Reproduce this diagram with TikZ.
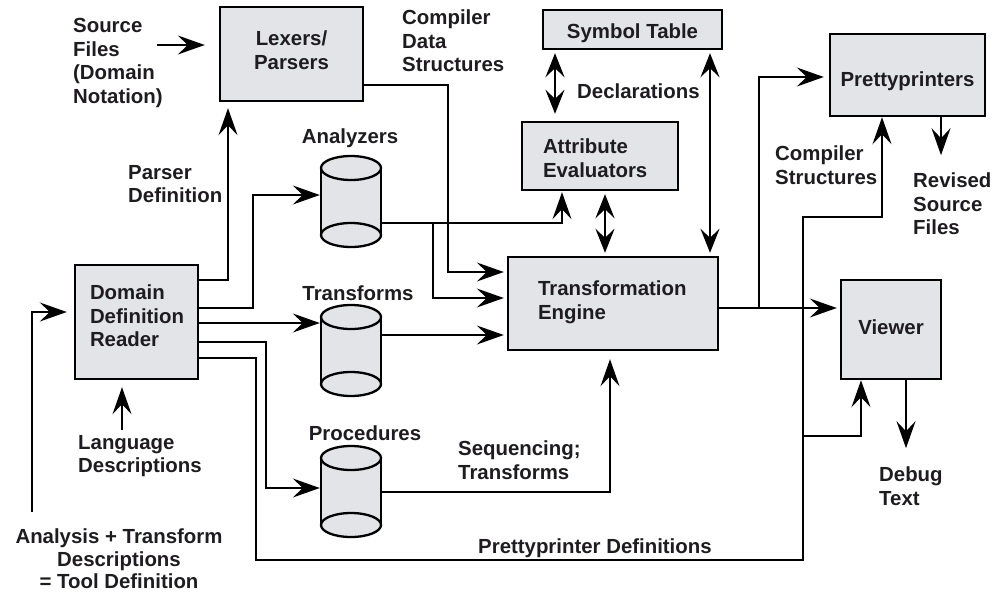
\documentclass[tikz,border=0pt]{standalone}
\usepackage{fontspec}
\setmainfont{Liberation Sans}
\usetikzlibrary{arrows.meta,calc}
\definecolor{boxfill}{RGB}{226,228,231}
\definecolor{txt}{RGB}{30,28,32}
\newcommand\upby[2]{\raisebox{#1}[\height][\depth]{#2}}
\newcommand\mycylinder[3]{%
  \fill[boxfill] (#1-30,#2) rectangle (#1+30,#3);
  \filldraw[cylline,fill=boxfill] (#1,#3) ellipse [x radius=30pt, y radius=12pt];
  \draw[cylline] (#1-30,#2) -- (#1-30,#3) (#1+30,#2) -- (#1+30,#3);
  \filldraw[cylline,fill=boxfill] (#1,#2) ellipse [x radius=30pt, y radius=12pt];
}
\begin{document}
\begin{tikzpicture}[x=1pt,y=-1pt,
  every node/.style={font=\bfseries\fontsize{20.4pt}{23.5pt}\selectfont, text=txt},
  box/.style={draw=black, line width=2.4pt, fill=boxfill, inner sep=0pt},
  lbl/.style={inner sep=0pt},
  cylline/.style={draw=black, line width=2.3pt},
  cylnode/.style={minimum width=60pt, minimum height=91pt, inner sep=0pt, draw=none},
  arr/.style={line width=2pt, -{Stealth[length=27pt,width=19pt,inset=10pt]}},
  darr/.style={line width=2pt, {Stealth[length=24pt,width=19pt,inset=9pt]}-{Stealth[length=24pt,width=19pt,inset=9pt]}, shorten <=3pt, shorten >=3pt}
]
\useasboundingbox[fill=white] (0,0) rectangle (1003,592);

% boxes
\node[box, minimum width=143pt, minimum height=94pt, align=center] (lex) at (291.5,54) {\upby{4pt}{Lexers/}\\\upby{4pt}{Parsers}};
\node[box, minimum width=179pt, minimum height=39pt] (sym) at (632.5,29.5) {\upby{-4pt}{Symbol Table}};
\node[box, minimum height=68pt, inner xsep=21pt, text width=114pt, align=left] (attr) at (600,156) {\upby{-2pt}{Attribute}\\\upby{-2pt}{Evaluators}};
\node[box, minimum width=155pt, minimum height=82pt] (pp) at (907.5,75) {\upby{-6pt}{Prettyprinters}};
\node[box, minimum height=93pt, inner xsep=30pt, text width=150pt, align=left] (te) at (613,303.5) {\upby{1pt}{Transformation}\\\upby{1pt}{Engine}};
\node[box, minimum width=100pt, minimum height=99pt] (viewer) at (891,329.5) {\upby{2pt}{Viewer}};
\node[box, minimum height=114pt, inner xsep=15pt, text width=93pt, align=left] (ddr) at (136.5,322) {\upby{6pt}{Domain}\\\upby{6pt}{Definition}\\\upby{6pt}{Reader}};

% cylinders
\mycylinder{351}{168}{235}
\mycylinder{351}{317}{384}
\mycylinder{351}{458}{525}
\node[cylnode] (ana) at (351,201.5) {};
\node[cylnode] (trans) at (351,350.5) {};
\node[cylnode] (proc) at (351,491.5) {};

% labels
\node[lbl, anchor=west, align=left] (src) at (73,63) {Source\\Files\\(Domain\\Notation)};
\node[lbl, anchor=west, align=left] (cds) at (402,41) {Compiler\\Data\\Structures};
\node[lbl, anchor=west, align=left] (pdef) at (128,184) {Parser\\Definition};
\node[lbl] (anal) at (350,138) {Analyzers};
\node[lbl] (transl) at (358,293) {Transforms};
\node[lbl] (procl) at (365,433) {Procedures};
\node[lbl, anchor=west] (decl) at (577,91) {Declarations};
\node[lbl, anchor=west, align=left] (cstr) at (775,165) {Compiler\\Structures};
\node[lbl, anchor=west, align=left] (rev) at (913,204) {Revised\\Source\\Files};
\node[lbl, anchor=west, align=left] (dbg) at (879,486) {Debug\\Text};
\node[lbl, anchor=west, align=left] (seq) at (458,460) {Sequencing;\\Transforms};
\node[lbl, anchor=west] (ppdl) at (478,548) {Prettyprinter Definitions};
\node[lbl, anchor=west, align=left] (lang) at (78,456) {Language\\Descriptions};
\node[lbl, align=center, font=\bfseries\fontsize{20.4pt}{22.5pt}\selectfont] (anadesc) at (119,559) {Analysis + Transform\\Descriptions\\= Tool Definition};

% coordinates for free ends / branch points
\coordinate (srcarr) at (157,45);
\coordinate (pdc) at (803,560);
\coordinate (pdt) at (803,217);
\coordinate (vbr) at (803,436);
\coordinate (tepp) at (759,308);
\coordinate (abr) at (433,223);
\coordinate (adin) at (32,512);
\coordinate (ldin) at (122,430);

% connectors
\draw[arr, shorten >=14pt] (srcarr) -- (srcarr -| lex.west);
\draw[arr, shorten >=6pt] ([yshift=42pt]ddr.east) -| ([xshift=-63.5pt]lex.south);
\draw[arr, shorten >=1pt] ([yshift=14pt]ddr.east) -- ++(54,0) |- ([yshift=6.5pt]ana.west);
\draw[arr, shorten >=1pt] ([yshift=-1pt]ddr.east) coordinate (p1) -- (p1 -| trans.west);
\draw[arr, shorten >=1pt] ([yshift=-20pt]ddr.east) -- ++(67,0) |- ([yshift=3.5pt]proc.west);
\draw[arr] ([yshift=-36pt]ddr.east) -- ++(57,0) |- (pdc) -- (pdt) -| ([xshift=-25.5pt]pp.south);
\draw[arr] (vbr) -| ([xshift=-30pt]viewer.south);
\draw[arr, shorten >=3pt] ([yshift=-4.5pt]te.east) coordinate (p2) -- (p2 -| viewer.west);
\draw[arr, shorten >=5pt] (tepp) |- ([yshift=-2pt]pp.west);
\draw[arr] ([xshift=15pt]viewer.south) -- ++(0,68);
\draw[arr] ([xshift=33.5pt]pp.south) -- ++(0,38);
\draw[darr, shorten >=7pt] ([xshift=-77.5pt]sym.south) coordinate (p3) -- (p3 |- attr.north);
\draw[darr] ([xshift=5pt]attr.south) coordinate (p4) -- (p4 |- te.north);
\draw[darr] ([xshift=77.5pt]sym.south) coordinate (p5) -- (p5 |- te.north);
\draw[arr, shorten >=1pt] ([yshift=-21.5pt]ana.east) -| ([xshift=-38pt]attr.south);
\draw[arr, shorten >=3pt] (abr) |- ([yshift=5.5pt]te.west);
\draw[arr, shorten >=3pt] ([yshift=-31pt]lex.east) -- ++(84,0) |- ([yshift=31.5pt]te.west);
\draw[arr, shorten >=3pt] ([yshift=15.5pt]trans.east) coordinate (p6) -- (p6 -| te.west);
\draw[arr, shorten >=8pt] (proc.east) -| ([xshift=-3pt]te.south);
\draw[arr, shorten >=7pt] (adin) |- ([yshift=10pt]ddr.west);
\draw[arr, shorten >=7pt] (ldin) -- (ldin |- ddr.south);
\end{tikzpicture}
\end{document}
